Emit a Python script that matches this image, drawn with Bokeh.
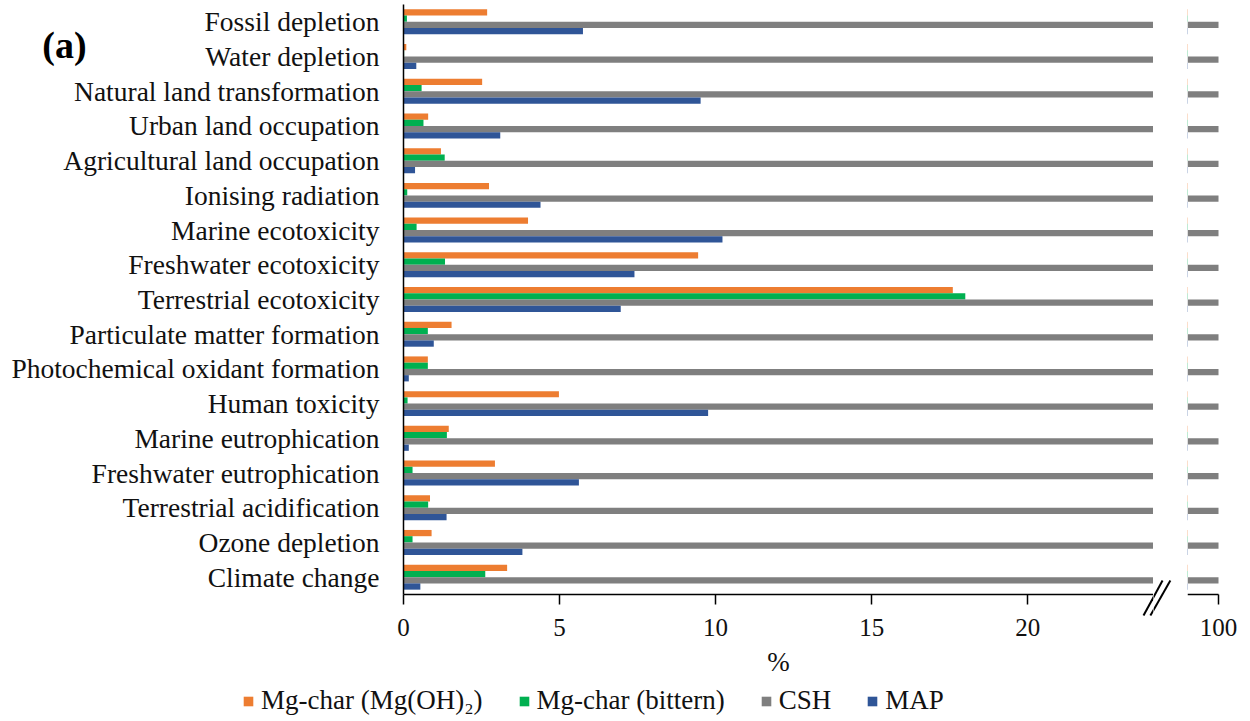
import numpy as np
from bokeh.plotting import figure
from bokeh.models import (ColumnDataSource, Range1d, FixedTicker, Legend, LegendItem, Label)
from bokeh.transform import dodge
from bokeh.layouts import row
from bokeh.embed import file_html
from bokeh.resources import INLINE

# Impact categories, listed top to bottom
categories = [
    "Fossil depletion", "Water depletion", "Natural land transformation",
    "Urban land occupation", "Agricultural land occupation", "Ionising radiation",
    "Marine ecotoxicity", "Freshwater ecotoxicity", "Terrestrial ecotoxicity",
    "Particulate matter formation", "Photochemical oxidant formation",
    "Human toxicity", "Marine eutrophication", "Freshwater eutrophication",
    "Terrestrial acidification", "Ozone depletion", "Climate change",
]

# Relative impact (%) of each material, CSH = 100 %
mg_char_oh = [2.68, 0.09, 2.52, 0.79, 1.20, 2.74, 3.99, 9.44, 17.6, 1.54,
              0.78, 4.98, 1.45, 2.93, 0.85, 0.90, 3.32]
mg_char_bittern = [0.11, 0.02, 0.58, 0.64, 1.32, 0.12, 0.42, 1.33, 18.0, 0.78,
                   0.78, 0.13, 1.39, 0.29, 0.79, 0.29, 2.62]
csh = [100] * 17
map_ = [5.75, 0.41, 9.52, 3.10, 0.37, 4.39, 10.22, 7.40, 6.96, 0.97,
        0.17, 9.76, 0.17, 5.62, 1.38, 3.81, 0.54]

series_names = ["Mg-char (Mg(OH)\u2082)", "Mg-char (bittern)", "CSH", "MAP"]
series_keys = ["oh", "bittern", "csh", "map"]
series_colors = ["#ED7D31", "#00B050", "#7F7F7F", "#2F5597"]
series_offsets = [0.27, 0.09, -0.09, -0.27]

main_ticks = [0, 5, 10, 15, 20]
break_ticks = [100]

# Category slots: first category on top, one unit per slot
n = len(categories)
slot = np.arange(n)[::-1]

source = ColumnDataSource(dict(cat=categories, slot=slot, oh=mg_char_oh,
                               bittern=mg_char_bittern, csh=csh, map=map_))

FONT = "Liberation Serif"
TXT = "#111111"

X_MAX = 24.03                 # right end of the 0-24 % panel
PX_PER_PCT = 750 / X_MAX
Y_BOTTOM, Y_TOP = -0.5, n - 0.5
X_RANGE = Range1d(-403 / PX_PER_PCT, X_MAX)
Y_RANGE = Range1d(-4.159, 16.615)

# "//" axis-break strokes (x in %, y in slot units)
break_x0 = [23.71, 23.93]
break_x1 = [24.32, 24.57]
break_y0 = [-1.105, -1.105]
break_y1 = [-0.097, -0.097]


def draw_bars(p):
    rs = []
    for key, col, off in zip(series_keys, series_colors, series_offsets):
        r = p.hbar(y=dodge("slot", off), left=0, right=key, height=0.18,
                   source=source, fill_color=col, line_color=None)
        rs.append(r)
    return rs


def style_xaxis(ax):
    ax.fixed_location = Y_BOTTOM
    ax.axis_line_color = "black"
    ax.axis_line_width = 1.5
    ax.major_tick_line_color = "black"
    ax.major_tick_line_width = 1.5
    ax.major_tick_out = 10
    ax.major_tick_in = 0
    ax.minor_tick_line_color = None
    ax.major_label_text_font = FONT
    ax.major_label_text_font_size = "25px"
    ax.major_label_text_color = TXT
    ax.major_label_standoff = 14


def make_fig(width, x_range):
    p = figure(width=width, height=721, x_range=x_range, y_range=Y_RANGE,
               output_backend="svg", toolbar_location=None,
               min_border_left=0, min_border_right=0,
               min_border_top=0, min_border_bottom=0)
    p.xgrid.visible = False
    p.ygrid.visible = False
    p.outline_line_color = None
    return p


# Left panel: 0-24 %, with the category axis drawn at x = 0
main = make_fig(1153, X_RANGE)
renderers = draw_bars(main)

xa = main.xaxis[0]
style_xaxis(xa)
xa.bounds = (0, X_MAX)
xa.ticker = FixedTicker(ticks=main_ticks)
xa.axis_label = "%"
xa.axis_label_text_font = FONT
xa.axis_label_text_font_style = "normal"
xa.axis_label_text_font_size = "27px"
xa.axis_label_text_color = TXT
xa.axis_label_standoff = 8

ya = main.yaxis[0]
ya.fixed_location = 0
ya.bounds = (Y_BOTTOM, Y_TOP)
ya.ticker = FixedTicker(ticks=[int(s) for s in slot])
ya.major_label_overrides = {int(s): c for s, c in zip(slot, categories)}
ya.axis_line_color = "black"
ya.axis_line_width = 1.5
ya.major_tick_line_color = None
ya.minor_tick_line_color = None
ya.major_label_text_font = FONT
ya.major_label_text_font_size = "27.5px"
ya.major_label_text_color = TXT
ya.major_label_standoff = 18

main.segment(x0=break_x0, y0=break_y0, x1=break_x1, y1=break_y1,
             line_color="black", line_width=2)

main.add_layout(Label(x=64, y=677, x_units="screen", y_units="screen", text="(a)",
                      text_font=FONT, text_font_size="38px", text_font_style="bold",
                      text_color="black", text_align="center", text_baseline="middle"))

legend = Legend(items=[LegendItem(label=nm, renderers=[r]) for nm, r in zip(series_names, renderers)],
                orientation="horizontal", location=(242, 5),
                padding=0, margin=0, spacing=35, label_standoff=7,
                glyph_width=12, glyph_height=12,
                label_text_font=FONT, label_text_font_size="27px", label_text_color=TXT,
                background_fill_alpha=0, border_line_color=None)
main.add_layout(legend)

# Gap between the panels, carrying the rest of the break strokes
gap = make_fig(34, Range1d(X_MAX, X_MAX + 34 / PX_PER_PCT))
gap.xaxis.visible = False
gap.yaxis.visible = False
gap.segment(x0=break_x0, y0=break_y0, x1=break_x1, y1=break_y1,
            line_color="black", line_width=2)

# Right panel: the CSH bars beyond the break (99-100 %, room on the right for the label)
right = make_fig(63, Range1d(99, 100 + 32 / 31))
draw_bars(right)
style_xaxis(right.xaxis[0])
right.xaxis.ticker = FixedTicker(ticks=break_ticks)
right.xaxis.bounds = (99, 100)
right.yaxis.visible = False

layout = row(main, gap, right, spacing=0)
open("out.html", "w").write(file_html(layout, INLINE))
